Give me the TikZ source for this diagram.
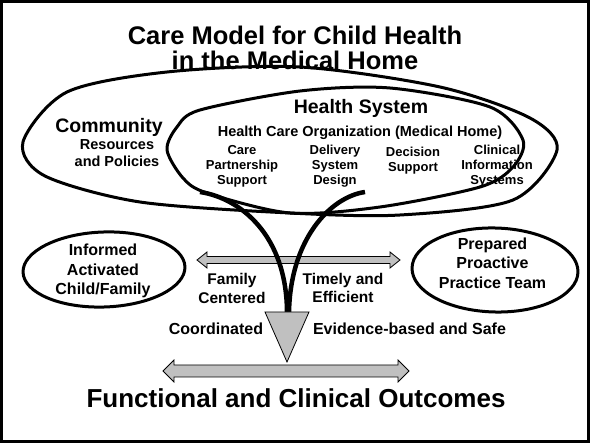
\documentclass[tikz,border=0pt]{standalone}
\usepackage{fontspec}
\setmainfont{Liberation Sans}
\usetikzlibrary{shapes.geometric}
\definecolor{silver}{RGB}{192,192,192}

\begin{document}
\begin{tikzpicture}[
x=1pt,y=-1pt,
font=\bfseries,
region/.style={line width=3pt,line join=round},
oval/.style={ellipse,draw,line width=3pt,inner sep=0pt},
strand/.style={line width=4.5pt},
band/.style={draw,fill=silver,line width=0.8pt},
funnel/.style={draw,fill=silver,line width=0.8pt},
headline/.style={font=\fontsize{25.5}{25}\selectfont\bfseries,align=center},
outcome/.style={font=\fontsize{26}{30}\selectfont\bfseries},
areatext/.style={font=\fontsize{19.5}{22}\selectfont\bfseries},
subtext/.style={font=\fontsize{14.5}{17}\selectfont\bfseries,align=center},
elemtext/.style={font=\fontsize{13}{15}\selectfont\bfseries,align=center},
sidetext/.style={font=\fontsize{16}{19.5}\selectfont\bfseries,align=center},
aimtext/.style={font=\fontsize{15.5}{18.5}\selectfont\bfseries,align=center},
labeltext/.style={font=\fontsize{16}{19}\selectfont\bfseries}
]

% Frame
\useasboundingbox (0,0) rectangle (590,443);
\draw[line width=2.5pt] (1.5,1.5) rectangle (588.5,441.5);

% Title
\node[headline] (title) at (295,48.2) {Care Model for Child Health\\in the Medical Home};

% Community and health system texts
\node[areatext,anchor=base] (community) at (109,133) {Community};
\node[subtext] (resources) at (117,153.3) {Resources\\and Policies};
\node[areatext,anchor=base] (system) at (361,114) {Health System};
\node[subtext,anchor=base] (org) at (360,137) {Health Care Organization (Medical Home)};

\node[elemtext] (partnership) at (242,166.7) {Care\\Partnership\\Support};
\node[elemtext] (delivery) at (335,166.6) {Delivery\\System\\Design};
\node[elemtext] (decision) at (413,160.2) {Decision\\Support};
\node[elemtext] (clinical) at (497,166) {Clinical\\Information\\Systems};

% Community and health system outlines
\draw[region] plot[smooth cycle] coordinates {(23,142) (67,92) (167,72) (300,67) (440,87) (530,118) (557,150) (513,200) (400,215) (290,213) (140,202) (45,176)};
\draw[region] plot[smooth cycle] coordinates {(167,150) (177,127) (200,110) (300,91) (390,88) (490,107) (523,140) (513,167) (480,187) (380,207) (290,213) (207,193) (183,178)};

% Child/family and practice team
\node[oval,minimum width=162,minimum height=75,rotate=2] (child) at (104,269.5) {};
\node[sidetext] (childtext) at (103,270.9) {Informed\\Activated\\Child/Family};
\node[oval,minimum width=166,minimum height=84,rotate=-1.5] (team) at (495,270) {};
\node[sidetext] (teamtext) at (492.5,263.2) {Prepared\\Proactive\\Practice Team};

% Block arrows: y, left tip, right tip, half shaft, half head, head length
\def\twoway#1#2#3#4#5#6{
  \draw[band] (#2,#1) -- (#2+#6,#1-#5) -- (#2+#6,#1-#4) -- (#3-#6,#1-#4) -- (#3-#6,#1-#5)
    -- (#3,#1) -- (#3-#6,#1+#5) -- (#3-#6,#1+#4) -- (#2+#6,#1+#4) -- (#2+#6,#1+#5) -- cycle;
}
\twoway{260}{197}{400}{3.5}{8}{10}
\twoway{371}{163}{409}{6}{11}{11}

% Funnel
\coordinate (strandL) at (200,192);
\coordinate (strandR) at (365,192);
\coordinate (fl) at (265,312);
\coordinate (fr) at (309,312);
\coordinate (tip) at (287,362);
\draw[strand] (strandL) .. controls (240,198) and (287,235) .. (287,313);
\draw[strand] (strandR) .. controls (330,197) and (290,240) .. (289,313);
\draw[funnel] (fl) -- (fr) -- (tip) -- cycle;

% Aims
\node[aimtext] (family) at (232,288.4) {Family\\Centered};
\node[aimtext] (timely) at (343,287.9) {Timely and\\Efficient};
\node[labeltext,anchor=base] (coordinated) at (216,335) {Coordinated};
\node[labeltext,anchor=base] (evidence) at (409.5,335) {Evidence-based and Safe};

\node[outcome,anchor=base] (outcomes) at (296,408) {Functional and Clinical Outcomes};
\end{tikzpicture}
\end{document}
